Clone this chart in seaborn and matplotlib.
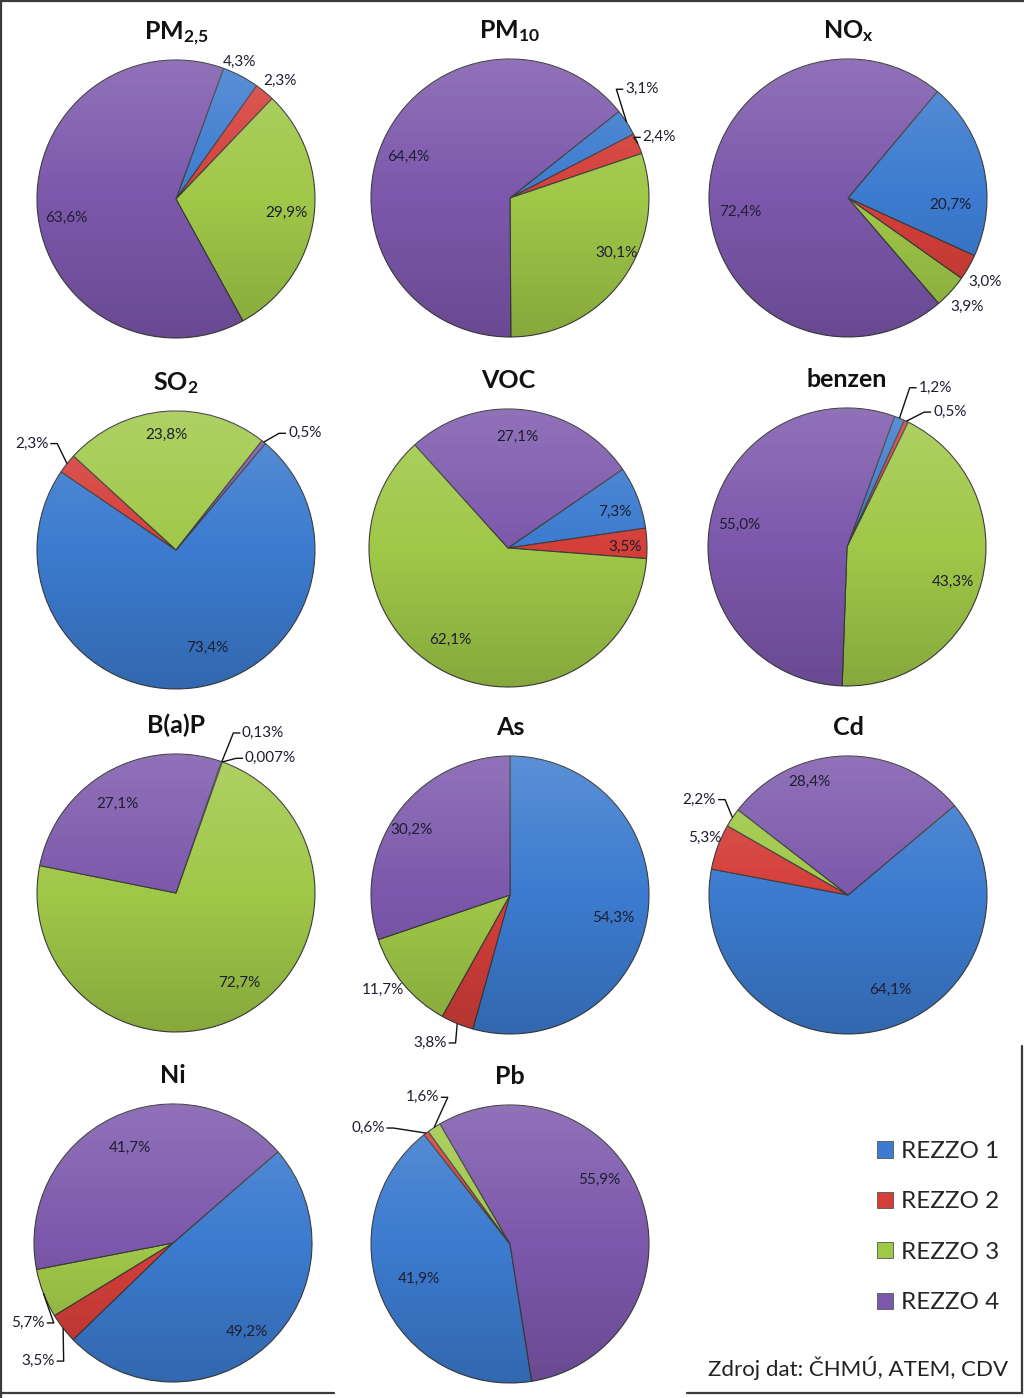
import numpy as np
import matplotlib
matplotlib.use("Agg")
import matplotlib.pyplot as plt
import seaborn as sns
from matplotlib.patches import Circle, Patch
from matplotlib.lines import Line2D

# ---------------- data ----------------
sources = ["REZZO 1", "REZZO 2", "REZZO 3", "REZZO 4"]
titles = ["PM$_\\mathrm{2{,}5}$", "PM$_\\mathrm{10}$", "NO$_\\mathrm{x}$",
          "SO$_\\mathrm{2}$", "VOC", "benzen",
          "B(a)P", "As", "Cd",
          "Ni", "Pb"]
pm25 = [4.3, 2.3, 29.9, 63.6]
pm10 = [3.1, 2.4, 30.1, 64.4]
nox = [20.7, 3.0, 3.9, 72.4]
so2 = [73.4, 2.3, 23.8, 0.5]
voc = [7.3, 3.5, 62.1, 27.1]
benzen = [1.2, 0.5, 43.3, 55.0]
bap = [0.13, 0.007, 72.7, 27.1]
arsen = [54.3, 3.8, 11.7, 30.2]
cd = [64.1, 5.3, 2.2, 28.4]
ni = [49.2, 3.5, 5.7, 41.7]
pb = [41.9, 0.6, 1.6, 55.9]
series = [pm25, pm10, nox, so2, voc, benzen, bap, arsen, cd, ni, pb]
source_note = "Zdroj dat: ČHMÚ, ATEM, CDV"

# ---------------- layout (pixels / angles) ----------------
W, H = 1024, 1398
R_PX = 139.0
centers = [(176, 199), (510, 198), (848, 198),
           (176, 550), (508, 548), (847, 547),
           (176, 893), (510, 895), (848, 895),
           (173, 1243), (510, 1244)]
start_deg = [20, 51.5, 40, 40, 55.5, 20, 19, 0, 50, 49, 171]
# label placement: (angle clockwise from top, distance in radii, leader line)
label_pos = [
    [(24.9, 1.09, False), (41.4, 1.13, False), (97.2, 0.80, False), (260.1, 0.80, False)],
    [(50.5, 1.23, True), (67.9, 1.16, True), (117.4, 0.86, False), (291.9, 0.79, False)],
    [(93.9, 0.74, False), (121.5, 1.16, False), (132.5, 1.16, False), (262.6, 0.78, False)],
    [(162.4, 0.74, False), (306.4, 1.29, True), (355.0, 0.83, False), (47.8, 1.25, True)],
    [(71.4, 0.81, False), (89.5, 0.84, False), (212.2, 0.78, False), (5.1, 0.80, False)],
    [(29.0, 1.31, True), (37.3, 1.22, True), (108.4, 0.80, False), (281.6, 0.79, False)],
    [(28.5, 1.31, True), (34.8, 1.18, True), (144.6, 0.79, False), (326.8, 0.77, False)],
    [(102.6, 0.76, False), (208.4, 1.21, True), (233.2, 1.14, False), (303.6, 0.85, False)],
    [(156.1, 0.75, False), (291.7, 1.11, False), (302.7, 1.27, True), (341.4, 0.86, False)],
    [(140.3, 0.83, False), (228.8, 1.29, True), (241.1, 1.19, True), (335.6, 0.75, False)],
    [(249.0, 0.70, False), (309.2, 1.32, True), (329.1, 1.23, True), (54.6, 0.79, False)],
]

# ---------------- style ----------------
sns.set_theme(style="white")
palette = sns.color_palette(["#3C7BCF", "#D53F3A", "#A0C848", "#7C58AC"])
plt.rcParams["font.family"] = ["Lato", "DejaVu Sans"]
plt.rcParams["mathtext.fontset"] = "custom"
plt.rcParams["mathtext.rm"] = "Lato:bold"
plt.rcParams["mathtext.it"] = "Lato:bold"
plt.rcParams["mathtext.bf"] = "Lato:bold"

fig = plt.figure(figsize=(W / 100, H / 100), dpi=100)
fig.patch.set_facecolor("white")

S = 400.0
L = (S / 2) / R_PX


def fmt(v):
    s = f"{v:g}" if v < 0.2 else f"{v:.1f}"
    return s.replace(".", ",") + "%"


# gradient overlay image (light top, dark bottom)
t = np.linspace(0, 1, 300)[:, None]
grad = np.zeros((300, 1, 4))
grad[..., :3] = np.where(t < 0.5, 1.0, 0.0)[..., None]
grad[..., 3] = 0.16 * np.abs(1 - 2 * t)

for i, vals in enumerate(series):
    cx, cy = centers[i]
    ax = fig.add_axes([(cx - S / 2) / W, (H - cy - S / 2) / H, S / W, S / H])
    wedges, _ = ax.pie(vals, colors=palette, startangle=90 - start_deg[i],
                       counterclock=False, radius=1.0,
                       wedgeprops=dict(edgecolor="#3c3c3c", linewidth=0.8))
    ax.axis("off")

    img = ax.imshow(grad, extent=(-1, 1, -1, 1), aspect="auto", zorder=3,
                    interpolation="bilinear")
    img.set_clip_path(Circle((0, 0), 1.0, transform=ax.transData))
    ax.set_xlim(-L, L)
    ax.set_ylim(-L, L)

    total = float(sum(vals))
    cum = 0.0
    for j, v in enumerate(vals):
        frac = v / total
        mid = start_deg[i] + 360 * (cum + frac / 2)
        cum += frac
        phi, d, leader = label_pos[i][j]
        tx, ty = d * np.sin(np.radians(phi)), d * np.cos(np.radians(phi))
        txt = fmt(v)
        ax.text(tx, ty, txt, ha="center", va="center", fontsize=11,
                color="#1e1e30", zorder=6)
        if leader:
            ex, ey = np.sin(np.radians(mid)), np.cos(np.radians(mid))
            s = 1.0 if tx > ex else -1.0
            hw = len(txt) * 0.057 / 2 + 0.02
            px = tx - s * hw
            ax.plot([ex, px - s * 0.05, px], [ey, ty, ty], color="#111111",
                    lw=1.0, zorder=5, solid_capstyle="butt")

    ax.text(0, 1.15, titles[i], ha="center", va="baseline", fontsize=18,
            fontweight="bold", color="#111111", zorder=6)

# legend
handles = [Patch(facecolor=c, edgecolor="#555555", linewidth=0.6) for c in palette]
fig.legend(handles, sources, loc="upper left",
           bbox_to_anchor=(877 / W, (H - 1141) / H), frameon=False,
           fontsize=17.5, handlelength=0.65, handleheight=0.65,
           handletextpad=0.35, labelspacing=1.21, borderpad=0, borderaxespad=0)

fig.text(1008 / W, (H - 1368) / H, source_note, ha="right", va="center",
         fontsize=16, color="#222222")

# frame lines
fc = "#3a3a3a"
for xs, ys in [((0, 1), (1 - 1 / H, 1 - 1 / H)),
               ((1 / W, 1 / W), (0, 1)),
               ((0, 334 / W), (5 / H, 5 / H)),
               ((687 / W, 1022 / W), (5 / H, 5 / H)),
               ((1022 / W, 1022 / W), (5 / H, (H - 1046) / H))]:
    fig.add_artist(Line2D(xs, ys, transform=fig.transFigure, color=fc, lw=1.6))

fig.savefig("out.png", dpi=100, facecolor="white")
